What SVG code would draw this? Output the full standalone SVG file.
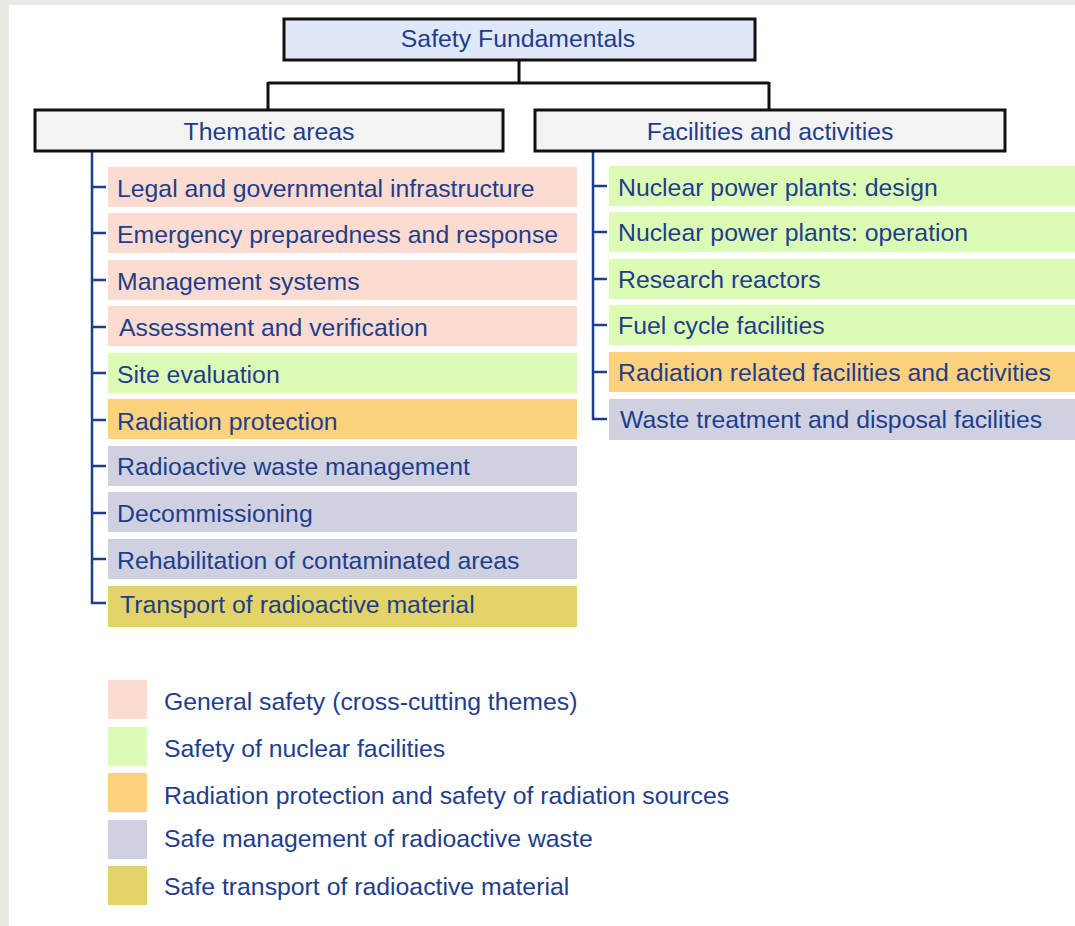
<svg xmlns="http://www.w3.org/2000/svg" width="1075" height="926" viewBox="0 0 1075 926">
<style>
text{font-family:"Liberation Sans",Arial,sans-serif;fill:#1f3d8c;}
.hdr{stroke:#111;stroke-width:3;}
.t{font-size:24.8px;}
.h{font-size:24.8px;text-anchor:middle;}
.conn{fill:none;stroke:#111;stroke-width:3;}
.tree{fill:none;stroke:#1f3d8c;stroke-width:2.5;}
.pk{fill:#fcdcd0;}
.gr{fill:#dcfcb6;}
.or{fill:#fdd27e;}
.lv{fill:#cfd1e1;}
.kh{fill:#e3d468;}
</style>
<rect x="0" y="0" width="1075" height="926" fill="#ffffff"/>
<rect x="0" y="0" width="1075" height="5" fill="#ebe9e4"/>
<rect x="0" y="0" width="9" height="926" fill="#ebe9e4"/>

<g id="connectors">
<path class="conn" d="M519 60 V83 M268 83 H769 M268 82 V110 M769 82 V110"/>
<path class="tree" d="M92 151 V603 H106 M92 187 H106 M92 233 H106 M92 280 H106 M92 327 H106 M92 373 H106 M92 420 H106 M92 466 H106 M92 513 H106 M92 559 H106"/>
<path class="tree" d="M593 151 V419 H607 M593 186 H607 M593 232 H607 M593 279 H607 M593 325 H607 M593 372 H607"/>
</g>

<g id="safety-fundamentals">
<rect class="hdr" x="284" y="19" width="471" height="41" fill="#dfe8f8"/>
<text class="h" x="518" y="47">Safety Fundamentals</text>
</g>
<g id="thematic-areas">
<rect class="hdr" x="35" y="110" width="468" height="41" fill="#f3f3f3"/>
<text class="h" x="269" y="140">Thematic areas</text>
</g>
<g id="facilities">
<rect class="hdr" x="535" y="110" width="470" height="41" fill="#f3f3f3"/>
<text class="h" x="770" y="140">Facilities and activities</text>
</g>

<g id="item-legal"><rect class="pk" x="108" y="167" width="469" height="40"/><text class="t" x="117" y="197">Legal and governmental infrastructure</text></g>
<g id="item-emergency"><rect class="pk" x="108" y="213" width="469" height="40"/><text class="t" x="117" y="243">Emergency preparedness and response</text></g>
<g id="item-management"><rect class="pk" x="108" y="260" width="469" height="40"/><text class="t" x="117" y="290">Management systems</text></g>
<g id="item-assessment"><rect class="pk" x="108" y="306" width="469" height="40"/><text class="t" x="119" y="336">Assessment and verification</text></g>
<g id="item-site"><rect class="gr" x="108" y="353" width="469" height="40"/><text class="t" x="117" y="383">Site evaluation</text></g>
<g id="item-radprot"><rect class="or" x="108" y="399" width="469" height="40"/><text class="t" x="117" y="430">Radiation protection</text></g>
<g id="item-waste"><rect class="lv" x="108" y="446" width="469" height="40"/><text class="t" x="117" y="475">Radioactive waste management</text></g>
<g id="item-decom"><rect class="lv" x="108" y="492" width="469" height="40"/><text class="t" x="117" y="522">Decommissioning</text></g>
<g id="item-rehab"><rect class="lv" x="108" y="539" width="469" height="40"/><text class="t" x="117" y="569">Rehabilitation of contaminated areas</text></g>
<g id="item-transport"><rect class="kh" x="108" y="586" width="469" height="41"/><text class="t" x="120" y="613">Transport of radioactive material</text></g>

<g id="item-npp-design"><rect class="gr" x="609" y="166" width="466" height="40"/><text class="t" x="618" y="196">Nuclear power plants: design</text></g>
<g id="item-npp-op"><rect class="gr" x="609" y="212" width="466" height="40"/><text class="t" x="618" y="241">Nuclear power plants: operation</text></g>
<g id="item-research"><rect class="gr" x="609" y="259" width="466" height="40"/><text class="t" x="618" y="288">Research reactors</text></g>
<g id="item-fuel"><rect class="gr" x="609" y="305" width="466" height="40"/><text class="t" x="618" y="334">Fuel cycle facilities</text></g>
<g id="item-radfac"><rect class="or" x="609" y="352" width="466" height="40"/><text class="t" x="618" y="381">Radiation related facilities and activities</text></g>
<g id="item-wastefac"><rect class="lv" x="609" y="399" width="466" height="41"/><text class="t" x="620" y="428">Waste treatment and disposal facilities</text></g>

<g id="legend">
<rect class="pk" x="108" y="680" width="39" height="39"/><text class="t" x="164" y="710">General safety (cross-cutting themes)</text>
<rect class="gr" x="108" y="727" width="39" height="39"/><text class="t" x="164" y="757">Safety of nuclear facilities</text>
<rect class="or" x="108" y="773" width="39" height="39"/><text class="t" x="164" y="804">Radiation protection and safety of radiation sources</text>
<rect class="lv" x="108" y="820" width="39" height="39"/><text class="t" x="164" y="847">Safe management of radioactive waste</text>
<rect class="kh" x="108" y="866" width="39" height="39"/><text class="t" x="164" y="895">Safe transport of radioactive material</text>
</g>
</svg>
